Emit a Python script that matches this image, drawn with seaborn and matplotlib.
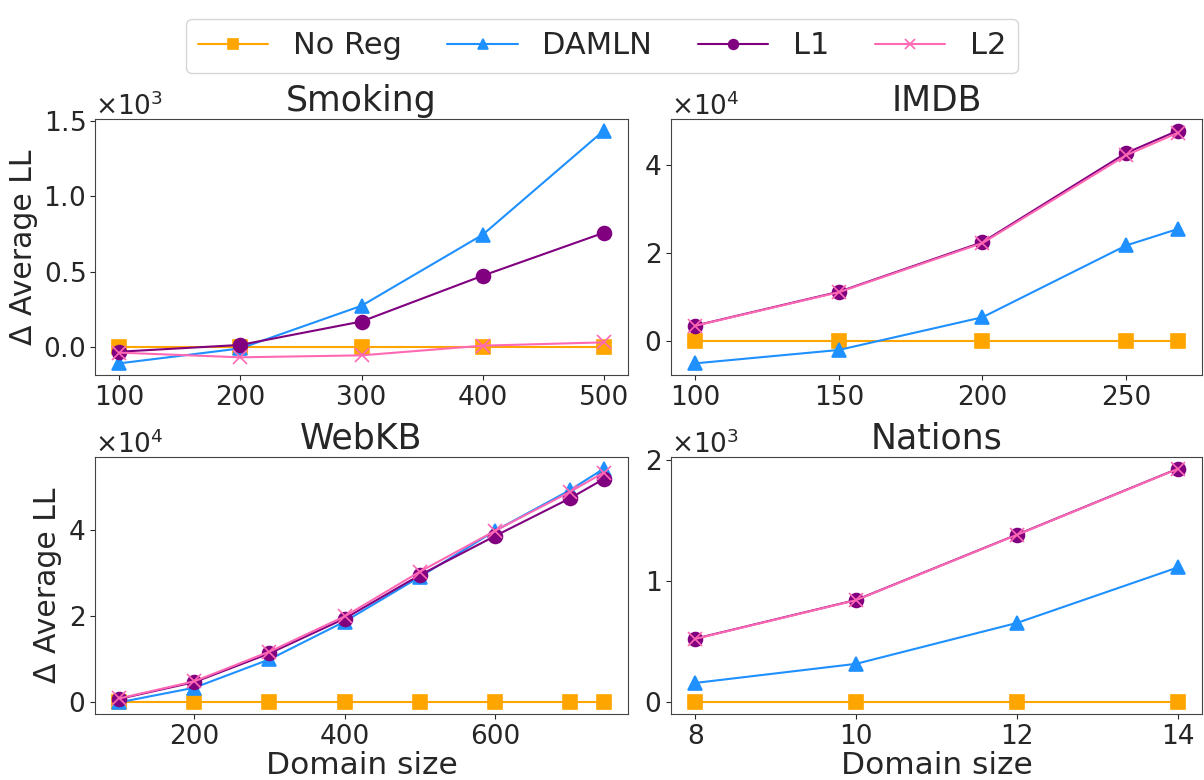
import matplotlib
matplotlib.use("Agg")
import matplotlib.pyplot as plt
import seaborn as sns
from matplotlib.ticker import ScalarFormatter, MultipleLocator

################# Data #################
methods = ["No Reg", "DAMLN", "L1", "L2"]
colors = {"No Reg": "orange", "DAMLN": "dodgerblue", "L1": "purple", "L2": "hotpink"}
markers = {"No Reg": "s", "DAMLN": "^", "L1": "o", "L2": "x"}

smoking_x = [100, 200, 300, 400, 500]
smoking = {
    "No Reg": [0, 0, 0, 0, 0],
    "DAMLN": [-106, -7, 275, 745, 1434],
    "L1": [-29, 16, 171, 474, 758],
    "L2": [-35, -66, -53, 11, 33],
}

imdb_x = [100, 150, 200, 250, 268]
imdb = {
    "No Reg": [0, 0, 0, 0, 0],
    "DAMLN": [-5100, -2050, 5400, 21750, 25500],
    "L1": [3500, 11200, 22500, 42800, 47900],
    "L2": [3450, 11100, 22300, 42300, 47400],
}

webkb_x = [100, 200, 300, 400, 500, 600, 700, 745]
webkb = {
    "No Reg": [0, 0, 0, 0, 0, 0, 0, 0],
    "DAMLN": [-100, 3300, 9900, 18700, 29100, 39800, 49300, 54300],
    "L1": [700, 4600, 11300, 19400, 29500, 38600, 47400, 51900],
    "L2": [800, 4800, 11700, 19900, 30300, 39800, 48900, 53400],
}

nations_x = [8, 10, 12, 14]
nations = {
    "No Reg": [0, 0, 0, 0],
    "DAMLN": [160, 318, 656, 1115],
    "L1": [526, 846, 1386, 1931],
    "L2": [524, 844, 1384, 1929],
}

panels = [
    ("Smoking", smoking_x, smoking),
    ("IMDB", imdb_x, imdb),
    ("WebKB", webkb_x, webkb),
    ("Nations", nations_x, nations),
]

################# Plot #################
sns.set_style("ticks")
plt.rcParams["font.family"] = ["DejaVu Sans"]

W, H = 1204, 780
fig = plt.figure(figsize=(W / 100, H / 100), dpi=100)

# axes boxes in pixels: left, top, right, bottom
boxes = [
    (95, 119, 628, 375),
    (671, 119, 1202, 375),
    (95, 457, 628, 714),
    (671, 457, 1202, 714),
]

for i, ((title, xs, series), (l, t, r, b)) in enumerate(zip(panels, boxes)):
    ax = fig.add_axes([l / W, 1 - b / H, (r - l) / W, (b - t) / H])
    for m in methods:
        sns.lineplot(x=xs, y=series[m], ax=ax, color=colors[m], marker=markers[m],
                     markersize=10, markeredgecolor=colors[m], markeredgewidth=1.2,
                     linewidth=1.5, label=m, legend=False)
    ax.set_title(title, fontsize=25)
    if title == "Nations":
        ax.set_xticks(xs)
        ax.yaxis.set_major_locator(MultipleLocator(1000))
    fmt = ScalarFormatter(useMathText=True)
    fmt.set_powerlimits((0, 0))
    ax.yaxis.set_major_formatter(fmt)
    ax.yaxis.get_offset_text().set_fontsize(19)
    ax.tick_params(labelsize=19)
    for s in ax.spines.values():
        s.set_color("#444444")
    if i % 2 == 0:
        ax.set_ylabel("Δ Average LL", fontsize=21.5)
    if i >= 2:
        ax.set_xlabel("Domain size", fontsize=22.5, labelpad=1)
    if i == 0:
        handles, labels = ax.get_legend_handles_labels()

fig.legend(handles, labels, loc="upper center", bbox_to_anchor=(0.5, 0.995), ncol=4,
           fontsize=22, handlelength=2.3, markerscale=0.7, columnspacing=1.5,
           frameon=True, fancybox=True)

plt.savefig("out.png", dpi=100)
